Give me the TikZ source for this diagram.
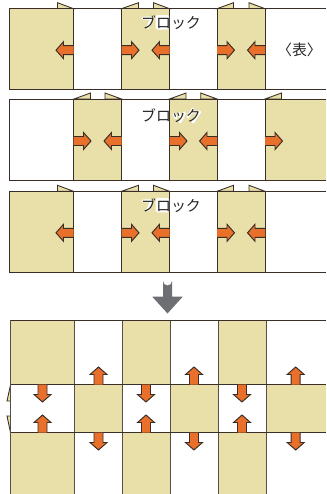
\documentclass[tikz,border=0pt]{standalone}
\usepackage{fontspec}
\usepackage{xcolor}
\usetikzlibrary{
	calc,
	positioning
}
\newfontfamily\cjk{Noto Sans CJK JP}
\definecolor{PanelTan}{RGB}{232,224,168}
\definecolor{PushOrange}{RGB}{232,112,42}
\definecolor{EdgeDark}{RGB}{58,46,40}
\definecolor{DownGray}{RGB}{110,111,115}
\tikzset{
	gridline/.style={draw=EdgeDark, line width=0.55pt},
	fold/.style={fill=PanelTan, draw=EdgeDark, line width=0.5pt, line join=miter},
	pusharrow/.style={fill=PushOrange, draw=EdgeDark, line width=0.55pt, line join=miter},
	halo/.style={draw=white, line width=1.7pt, line cap=round, line join=round},
	blocklabel/.style={font=\cjk\fontsize{8.5}{8.5}\selectfont, text=black!85, inner sep=0pt}
}
% arrow with its foot at (#1,#2), turned by #3
\newcommand{\pushmark}[3]{
	\draw[pusharrow, shift={(#1,#2)}, rotate=#3] (0,-4.5) -- (10,-4.5) -- (10,-8.5) -- (17.5,0) -- (10,8.5) -- (10,4.5) -- (0,4.5);
}
\begin{document}
\begin{tikzpicture}[x=0.02cm, y=-0.02cm]
	\useasboundingbox (0,0) rectangle (326,494);
	
	% rows 1 and 3
	\foreach \rowtop in {8.7,191.3} {
		\begin{scope}[shift={(0,\rowtop)}]
			\draw[fold] (57.5,0) -- (57.5,-6) -- (73.5,0) -- cycle;
			\draw[fold] (121.5,0) -- (138.5,-6) -- (138.5,0) -- cycle;
			\draw[fold] (153.5,0) -- (153.5,-6) -- (169.5,0) -- cycle;
			\draw[fold] (217,0) -- (233.5,-6) -- (233.5,0) -- cycle;
			\draw[fold] (249,0) -- (249,-6) -- (265,0) -- cycle;
			\foreach \xa/\xb in {9/73.5,121.5/169.5,217/265}
				\fill[PanelTan] (\xa,0) rectangle (\xb,81);
			\foreach \xa in {9,73.5,121.5,169.5,217,265}
				\draw[gridline] (\xa,0) -- (\xa,81);
			\draw[gridline] (9,0) -- (326,0);
			\draw[gridline] (9,81) -- (326,81);
			\pushmark{73.5}{41.5}{180}
			\pushmark{121.5}{41.5}{0}
			\pushmark{169.5}{41.5}{180}
			\pushmark{217}{41.5}{0}
			\pushmark{265}{41.5}{180}
			% white edge of the lettering on the tan panel
			\draw[halo] (143,9.5) -- (152,9.5) -- (147.5,19);
			\fill[white, rounded corners=1pt] (155.5,6.5) rectangle (169,21);
		\end{scope}
	}
	
	% row 2
	\begin{scope}[shift={(0,99)}]
		\draw[fold] (74,0) -- (90.5,-6) -- (90.5,0) -- cycle;
		\draw[fold] (105,0) -- (105,-6) -- (121.5,0) -- cycle;
		\draw[fold] (169.5,0) -- (186,-6) -- (186,0) -- cycle;
		\draw[fold] (200.7,0) -- (200.7,-6) -- (217,0) -- cycle;
		\draw[fold] (265,0) -- (281.5,-6) -- (281.5,0) -- cycle;
		\foreach \xa/\xb in {73.5/121.5,169.5/217,265/326}
			\fill[PanelTan] (\xa,0) rectangle (\xb,81.5);
		\foreach \xa in {9,73.5,121.5,169.5,217,265}
			\draw[gridline] (\xa,0) -- (\xa,81.5);
		\draw[gridline] (9,0) -- (326,0);
		\draw[gridline] (9,81.5) -- (326,81.5);
		\pushmark{73.5}{42}{0}
		\pushmark{121.5}{42}{180}
		\pushmark{169.5}{42}{0}
		\pushmark{217}{42}{180}
		\pushmark{265}{42}{0}
		% white edge of the lettering on the tan panel
		\draw[halo] (174,15) -- (176,19);
		\draw[halo] (178.5,14) -- (180.5,18);
		\draw[halo] (184.5,14) -- (180,23);
		\draw[halo] (193,10) -- (188,18);
		\draw[halo] (192,13) -- (199.5,13) -- (193,23);
	\end{scope}
	
	\node[blocklabel] (blockA) at (171,22.5) {ブロック};
	\node[blocklabel] (blockB) at (171,115.5) {ブロック};
	\node[blocklabel] (blockC) at (171,206) {ブロック};
	\node[blocklabel] (front) at (299.5,50) {〈表〉};
	
	% down arrow between the two stages
	\fill[DownGray] (163,281) arc (180:0:4.5) -- (172,296.7) -- (182.7,296.7) -- (167.5,313.5) -- (152.3,296.7) -- (163,296.7) -- cycle;
	
	% opened sheet
	\draw[fold] (10.5,385) -- (7,401) -- (10.5,401);
	\draw[fold] (10.5,416) -- (7,416) -- (10.5,432.5);
	\fill[PanelTan] (10.5,320) rectangle (74.5,384.5);
	\fill[PanelTan] (122.5,320) rectangle (170.5,384.5);
	\fill[PanelTan] (218,320) rectangle (266,384.5);
	\fill[PanelTan] (74.5,384.5) rectangle (122.5,432.5);
	\fill[PanelTan] (170.5,384.5) rectangle (218,432.5);
	\fill[PanelTan] (266,384.5) rectangle (326,432.5);
	\fill[PanelTan] (10.5,432.5) rectangle (74.5,494);
	\fill[PanelTan] (122.5,432.5) rectangle (170.5,494);
	\fill[PanelTan] (218,432.5) rectangle (266,494);
	\foreach \xa in {10.5,74.5,122.5,170.5,218,266}
		\draw[gridline, draw=EdgeDark!85] (\xa,320) -- (\xa,494);
	\foreach \ya in {320,384.5,432.5}
		\draw[gridline] (10.5,\ya) -- (326,\ya);
	
	\foreach \xa in {42.5,146,242} {
		\pushmark{\xa}{384.5}{-90}
		\pushmark{\xa}{432.5}{90}
	}
	\foreach \xa in {98.5,194,295.7} {
		\pushmark{\xa}{384.5}{90}
		\pushmark{\xa}{432.5}{-90}
	}
\end{tikzpicture}
\end{document}
